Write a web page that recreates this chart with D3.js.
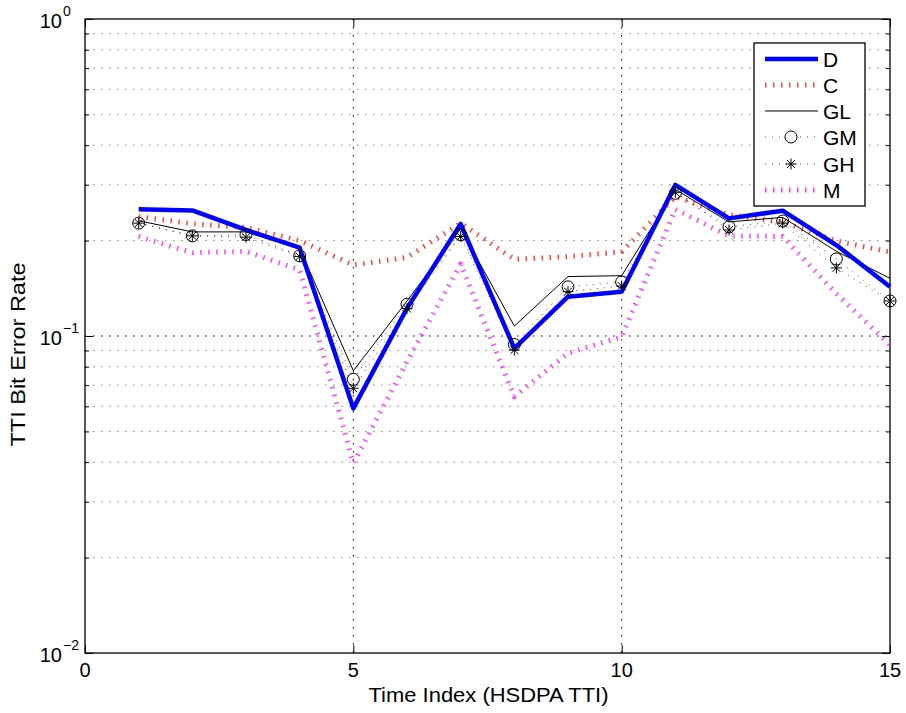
<!DOCTYPE html>
<html><head><meta charset="utf-8">
<script src="https://cdn.jsdelivr.net/npm/d3@7"></script>
<style>body{margin:0;background:#fff}svg{display:block}text{font-family:"Liberation Sans",Arial,sans-serif;fill:#000}</style>
</head><body><svg id="c" width="906" height="713"></svg>
<script>
const timeIndex = [1,2,3,4,5,6,7,8,9,10,11,12,13,14,15];
const seriesD  = [0.251,0.249,0.216,0.190,0.0591,0.1223,0.2256,0.0914,0.133,0.138,0.2996,0.235,0.2485,0.1936,0.143];
const seriesC  = [0.238,0.226,0.220,0.200,0.1675,0.177,0.227,0.1745,0.178,0.1845,0.275,0.241,0.229,0.1995,0.184];
const seriesGL = [0.231,0.213,0.213,0.189,0.0777,0.129,0.218,0.1075,0.154,0.155,0.290,0.229,0.2368,0.185,0.152];
const seriesGM = [0.227,0.207,0.209,0.179,0.073,0.126,0.2085,0.094,0.1429,0.148,0.282,0.221,0.2305,0.175,0.129];
const seriesGH = [0.227,0.207,0.205,0.178,0.0684,0.122,0.206,0.0903,0.138,0.1438,0.284,0.216,0.227,0.164,0.129];
const seriesM  = [0.206,0.183,0.185,0.1616,0.0397,0.083,0.1687,0.0644,0.0882,0.0995,0.251,0.2067,0.206,0.136,0.0937];
const xTicks = [0,5,10,15];
const yTicks = [1,0.1,0.01];
const yTickExp = ["0","\u22121","\u22122"];
const legendNames = ["D","C","GL","GM","GH","M"];
const xLabel = "Time Index (HSDPA TTI)";
const yLabel = "TTI Bit Error Rate";

const L=85,R=890,T=19,B=653;
const svg=d3.select("#c");
const x=d3.scaleLinear().domain([0,15]).range([L,R]);
const y=d3.scaleLog().domain([0.01,1]).range([B,T]);

// grid
const minor=[];
for(let e=-2;e<0;e++) for(let k=2;k<=9;k++) minor.push(k*Math.pow(10,e));
const g=svg.append("g");
g.selectAll(".mg").data(minor).enter().append("line")
 .attr("x1",L).attr("x2",R).attr("y1",d=>y(d)).attr("y2",d=>y(d))
 .attr("stroke","#888").attr("stroke-width",1).attr("stroke-dasharray","1.5,6.5");
g.selectAll(".Mg").data([0.1]).enter().append("line")
 .attr("x1",L).attr("x2",R).attr("y1",d=>y(d)).attr("y2",d=>y(d))
 .attr("stroke","#000").attr("stroke-width",1).attr("stroke-dasharray","1.5,6.5");
g.selectAll(".vg").data([5,10]).enter().append("line")
 .attr("y1",T).attr("y2",B).attr("x1",d=>x(d)).attr("x2",d=>x(d))
 .attr("stroke","#000").attr("stroke-width",1).attr("stroke-dasharray","1.5,6.5");

// axes with inward ticks
const yAxL=d3.axisRight(y).tickValues(yTicks).tickSize(8).tickFormat("");
const yAxLm=d3.axisRight(y).tickValues(minor).tickSize(4).tickFormat("");
const yAxR=d3.axisLeft(y).tickValues(yTicks).tickSize(8).tickFormat("");
const yAxRm=d3.axisLeft(y).tickValues(minor).tickSize(4).tickFormat("");
const xAxB=d3.axisTop(x).tickValues(xTicks).tickSize(8).tickFormat("");
const xAxT=d3.axisBottom(x).tickValues(xTicks).tickSize(8).tickFormat("");
[[yAxL,`translate(${L},0)`],[yAxLm,`translate(${L},0)`],[yAxR,`translate(${R},0)`],[yAxRm,`translate(${R},0)`],[xAxB,`translate(0,${B})`],[xAxT,`translate(0,${T})`]].forEach(([a,t])=>{
  const ga=svg.append("g").attr("transform",t).call(a);
  ga.select(".domain").remove();
  ga.selectAll("line").attr("stroke","#000").attr("stroke-width",1);
});
svg.append("rect").attr("x",L).attr("y",T).attr("width",R-L).attr("height",B-T)
 .attr("fill","none").attr("stroke","#000").attr("stroke-width",1.3);

// tick labels
svg.selectAll(".xt").data(xTicks).enter().append("text")
 .attr("x",d=>x(d)).attr("y",B+24).attr("text-anchor","middle").attr("font-size",20).text(d=>d);
yTicks.forEach((v,i)=>{
  const t=svg.append("text").attr("x",62).attr("y",y(v)+9).attr("text-anchor","end").attr("font-size",20).text("10");
  svg.append("text").attr("x",63).attr("y",y(v)-3).attr("font-size",14).text(yTickExp[i]);
});
svg.append("text").attr("x",(L+R)/2+1).attr("y",702).attr("text-anchor","middle").attr("font-size",20)
 .attr("textLength",240).attr("lengthAdjust","spacingAndGlyphs").text(xLabel);
svg.append("text").attr("transform",`translate(25,${(262+447)/2}) rotate(-90)`).attr("text-anchor","middle").attr("font-size",20)
 .attr("textLength",184).attr("lengthAdjust","spacingAndGlyphs").text(yLabel);

// series
const clip=svg.append("clipPath").attr("id","cp").append("rect").attr("x",L).attr("y",T).attr("width",R-L).attr("height",B-T);
const line=d3.line().x((d,i)=>x(timeIndex[i])).y(d=>y(d));
const styles={
 D:{stroke:"#0000ff",w:4.5,dash:null},
 C:{stroke:"#ff2020",w:5,dash:"1.5,6.5",op:0.85},
 GL:{stroke:"#000",w:1,dash:null},
 GM:{stroke:"#000",w:1,dash:"1,6",op:0.7},
 GH:{stroke:"#000",w:1,dash:"1,6",op:0.7},
 M:{stroke:"#ff20ff",w:5,dash:"1.5,6.5",op:0.85}
};
const data={D:seriesD,C:seriesC,GL:seriesGL,GM:seriesGM,GH:seriesGH,M:seriesM};
const pg=svg.append("g");
["M","C","GH","GM","GL","D"].forEach(k=>{
  const s=styles[k];
  pg.append("path").attr("d",line(data[k])).attr("fill","none").attr("stroke",s.stroke)
   .attr("stroke-width",s.w).attr("stroke-dasharray",s.dash).attr("stroke-opacity",s.op||1)
   .attr("stroke-linejoin","round");
});
function star(s){const a=s*0.7071;return `M0,${-s}L0,${s}M${-s},0L${s},0M${-a},${-a}L${a},${a}M${-a},${a}L${a},${-a}`;}
pg.selectAll(".gm").data(seriesGM).enter().append("circle")
 .attr("cx",(d,i)=>x(timeIndex[i])).attr("cy",d=>y(d)).attr("r",6)
 .attr("fill","none").attr("stroke","#000").attr("stroke-width",1);
pg.selectAll(".gh").data(seriesGH).enter().append("path")
 .attr("transform",(d,i)=>`translate(${x(timeIndex[i])},${y(d)})`).attr("d",star(5.5))
 .attr("fill","none").attr("stroke","#000").attr("stroke-width",1);

// legend
const lg=svg.append("g");
lg.append("rect").attr("x",754).attr("y",43).attr("width",111).attr("height",163)
 .attr("fill","#fff").attr("stroke","#000").attr("stroke-width",1.3);
const ly=[59,85,111,137,164,190];
legendNames.forEach((n,i)=>{
  const s=styles[n];
  lg.append("line").attr("x1",765).attr("x2",818).attr("y1",ly[i]).attr("y2",ly[i])
   .attr("stroke",s.stroke).attr("stroke-width",s.w).attr("stroke-dasharray",s.dash).attr("stroke-opacity",s.op||1);
  if(n==="GM") lg.append("circle").attr("cx",791).attr("cy",ly[i]).attr("r",6).attr("fill","#fff").attr("stroke","#000");
  if(n==="GH") lg.append("path").attr("transform",`translate(791,${ly[i]})`).attr("d",star(5.5)).attr("fill","none").attr("stroke","#000");
  lg.append("text").attr("x",823).attr("y",ly[i]+7.5).attr("font-size",21).text(n);
});
</script></body></html>
